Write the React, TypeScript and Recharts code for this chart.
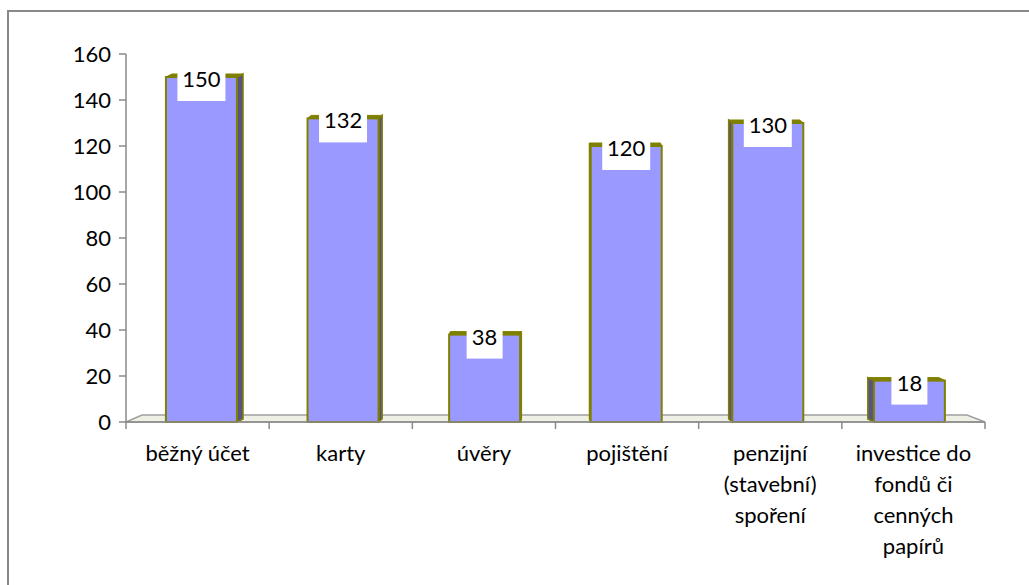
import { BarChart, Bar, XAxis, YAxis } from "recharts";

const categories = [
  "běžný účet",
  "karty",
  "úvěry",
  "pojištění",
  "penzijní\n(stavební)\nspoření",
  "investice do\nfondů či\ncenných\npapírů",
];
const counts = [150, 132, 38, 120, 130, 18];
const yTicks = [0, 20, 40, 60, 80, 100, 120, 140, 160];

const data = categories.map((name, i) => ({ name, count: counts[i] }));

// layout
const W = 1029;
const H = 585;
const PLOT_LEFT = 126;
const PLOT_RIGHT = 985;
const PLOT_TOP = 54;
const PLOT_BOTTOM = 422;
const Y_AXIS_W = 60;
const X_AXIS_H = 141;
const BAND = (PLOT_RIGHT - PLOT_LEFT) / categories.length;
const VIEW_MID = (PLOT_LEFT + PLOT_RIGHT) / 2;

const FONT = "Lato, 'Open Sans', sans-serif";
const FONT_SIZE = 22;
const AXIS_GRAY = "#8a8a8a";
const FRONT = "#9999FF";
const SIDE = "#55557f";
const OLIVE = "#808000";

function Column3D(props: any) {
  const { x, y, width, height, payload } = props;
  if (!height || height <= 0) return null;
  const cx = x + width / 2;
  // fake perspective: faces lean toward the middle of the floor
  const shift = (VIEW_MID - cx) * 0.011;
  const dx = (VIEW_MID - cx) * 0.017;
  const up = 3;
  const L = x + shift;
  const R = x + width + shift;
  const top = y;
  const bottom = y + height;
  const side =
    dx >= 0
      ? [[R, top], [R + dx, top - up], [R + dx, bottom - up], [R, bottom]]
      : [[L, top], [L + dx, top - up], [L + dx, bottom - up], [L, bottom]];
  const lid = [[L, top], [L + dx, top - up], [R + dx, top - up], [R, top]];
  const label = String(payload.count);
  const boxW = label.length * 12 + 12;
  const mid = (L + R) / 2;
  return (
    <g>
      <polygon points={side.map((p) => p.join(",")).join(" ")} fill={SIDE} stroke={OLIVE} strokeWidth={1.5} />
      <rect x={L} y={top} width={R - L} height={bottom - top} fill={FRONT} stroke={OLIVE} strokeWidth={2} />
      <polygon points={lid.map((p) => p.join(",")).join(" ")} fill={OLIVE} stroke={OLIVE} strokeWidth={1} />
      <rect x={mid - boxW / 2} y={top - 10} width={boxW} height={34} fill="#fff" />
      <text x={mid} y={top + 10} textAnchor="middle" fontFamily={FONT} fontSize={FONT_SIZE} fill="#000">
        {label}
      </text>
    </g>
  );
}

function CategoryTick(props: any) {
  const { x, payload, index } = props;
  const lines = String(payload.value).split("\n");
  return (
    <g>
      <line x1={x - BAND / 2} y1={PLOT_BOTTOM} x2={x - BAND / 2} y2={PLOT_BOTTOM + 7} stroke={AXIS_GRAY} strokeWidth={1.5} />
      {index === categories.length - 1 && (
        <line x1={x + BAND / 2} y1={PLOT_BOTTOM} x2={x + BAND / 2} y2={PLOT_BOTTOM + 7} stroke={AXIS_GRAY} strokeWidth={1.5} />
      )}
      <text textAnchor="middle" fontFamily={FONT} fontSize={FONT_SIZE} fill="#000">
        {lines.map((ln, i) => (
          <tspan key={i} x={x} y={PLOT_BOTTOM + 39 + i * 31}>
            {ln}
          </tspan>
        ))}
      </text>
    </g>
  );
}

function Floor() {
  const back = 7;
  const pts = [
    [PLOT_LEFT, PLOT_BOTTOM],
    [PLOT_LEFT + 16, PLOT_BOTTOM - back],
    [PLOT_RIGHT - 18, PLOT_BOTTOM - back],
    [PLOT_RIGHT, PLOT_BOTTOM],
  ];
  return (
    <svg width={W} height={H} style={{ position: "absolute", left: 0, top: 0 }}>
      <polygon points={pts.map((p) => p.join(",")).join(" ")} fill="#eef0e6" stroke="#a0a0a0" strokeWidth={1.5} />
    </svg>
  );
}

export default function App() {
  return (
    <div style={{ position: "fixed", left: 0, top: 0, width: W, height: H, background: "#fff", overflow: "hidden" }}>
      <div
        style={{
          position: "absolute",
          left: 7,
          top: 10,
          width: W + 20,
          height: H + 20,
          border: "2px solid #888",
          boxSizing: "border-box",
        }}
      />
      <Floor />
      <div style={{ position: "absolute", left: 0, top: 0 }}>
        <BarChart
          width={W}
          height={H}
          data={data}
          margin={{
            top: PLOT_TOP,
            right: W - PLOT_RIGHT,
            left: PLOT_LEFT - Y_AXIS_W,
            bottom: H - PLOT_BOTTOM - X_AXIS_H,
          }}
        >
          <XAxis
            dataKey="name"
            height={X_AXIS_H}
            interval={0}
            tickLine={false}
            axisLine={{ stroke: AXIS_GRAY, strokeWidth: 1.5 }}
            tick={<CategoryTick />}
          />
          <YAxis
            width={Y_AXIS_W}
            domain={[0, 160]}
            ticks={yTicks}
            interval={0}
            tickSize={7}
            tickMargin={8}
            axisLine={{ stroke: AXIS_GRAY, strokeWidth: 1.5 }}
            tickLine={{ stroke: AXIS_GRAY, strokeWidth: 1.5 }}
            tick={{ fill: "#000", fontSize: FONT_SIZE, fontFamily: FONT }}
          />
          <Bar dataKey="count" barSize={71} shape={<Column3D />} isAnimationActive={false} />
        </BarChart>
      </div>
    </div>
  );
}
